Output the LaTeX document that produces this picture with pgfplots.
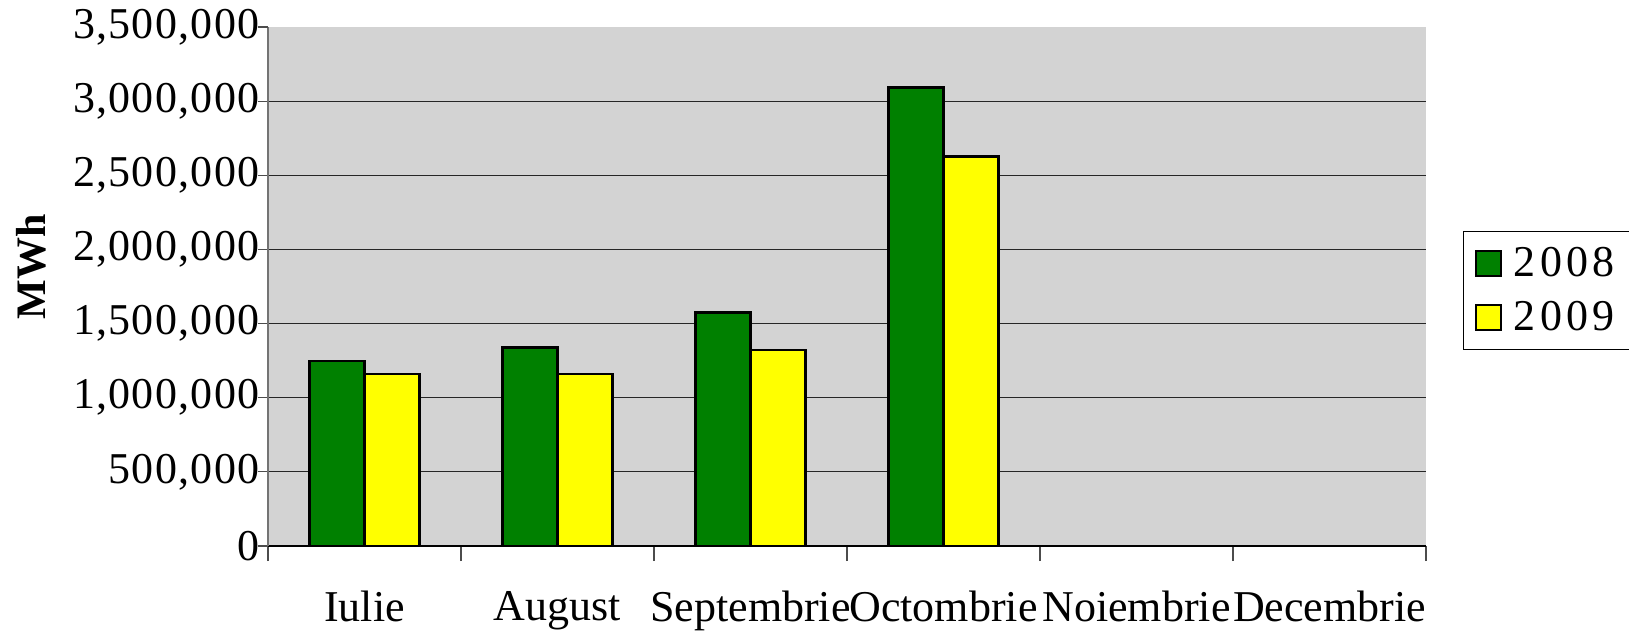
\documentclass[border=0pt]{standalone}
\usepackage{fontspec}
\setmainfont{Liberation Serif}
\newfontfamily\legfont[LetterSpace=10]{Liberation Serif}
\newfontfamily\tickfont[LetterSpace=3]{Liberation Serif}
\usepackage{pgfplots}
\pgfplotsset{compat=1.18}
\definecolor{bgray}{RGB}{211,211,211}
\definecolor{cgreen}{RGB}{0,128,0}
\definecolor{cyellow}{RGB}{255,255,0}
\begin{document}
\begin{tikzpicture}
\begin{axis}[
  scale only axis,
  width=579pt, height=259.5pt,
  xmin=-0.5, xmax=5.5,
  ymin=0, ymax=3500000,
  ytick={0,500000,1000000,1500000,2000000,2500000,3000000},
  extra y ticks={3500000},
  extra y tick style={grid=none},
  scaled y ticks=false,
  /pgf/number format/assume math mode=true,
  /pgf/number format/fixed,
  /pgf/number format/1000 sep={,},
  ybar=0pt, bar width=27.5pt,
  xtick={0,1,2,3,4,5},
  xticklabels={Iulie,August,Septembrie,Octombrie,Noiembrie,Decembrie},
  minor xtick={-0.5,0.5,1.5,2.5,3.5,4.5,5.5},
  major x tick style={draw=none},
  minor x tick style={black!70, line width=0.6pt},
  tick align=outside,
  minor tick length=7.5pt,
  major tick length=5pt,
  y tick style={black!70, line width=0.6pt},
  ymajorgrids,
  major grid style={black!85, line width=0.6pt},
  axis x line*=bottom,
  axis y line*=left,
  x axis line style={-, black, line width=0.7pt},
  y axis line style={-, black!55, line width=1pt},
  axis background/.style={fill=bgray},
  tick label style={font=\fontsize{22}{26}\selectfont},
  yticklabel style={inner sep=1pt, xshift=2pt, font=\fontsize{22}{26}\selectfont\tickfont},
  xticklabel style={yshift=-14pt},
  ylabel={MWh},
  ylabel style={font=\fontsize{21}{24}\selectfont\bfseries, at={(axis description cs:-0.2047,0.5376)}, anchor=center},
  legend style={at={(axis description cs:1.032,0.607)}, anchor=north west, draw=black, fill=white,
    font=\fontsize{22}{25}\selectfont\legfont, inner xsep=6pt, inner ysep=6pt, row sep=7pt},
  legend cell align=left,
  legend image code/.code={\draw[#1, line width=1pt] (0pt,-6.25pt) rectangle (12.5pt,6.25pt); \path (16pt,0pt);},
]
\addplot[fill=cgreen, draw=black, line width=1.2pt] coordinates {(0,1248000) (1,1338000) (2,1574000) (3,3092000)};
\addplot[fill=cyellow, draw=black, line width=1.2pt] coordinates {(0,1158000) (1,1158000) (2,1322000) (3,2626000)};
\legend{2008,2009}
\end{axis}
\pgfresetboundingbox
\path[use as bounding box] (-134pt,-43.5pt) rectangle (680.5pt,273pt);
\end{tikzpicture}
\end{document}
